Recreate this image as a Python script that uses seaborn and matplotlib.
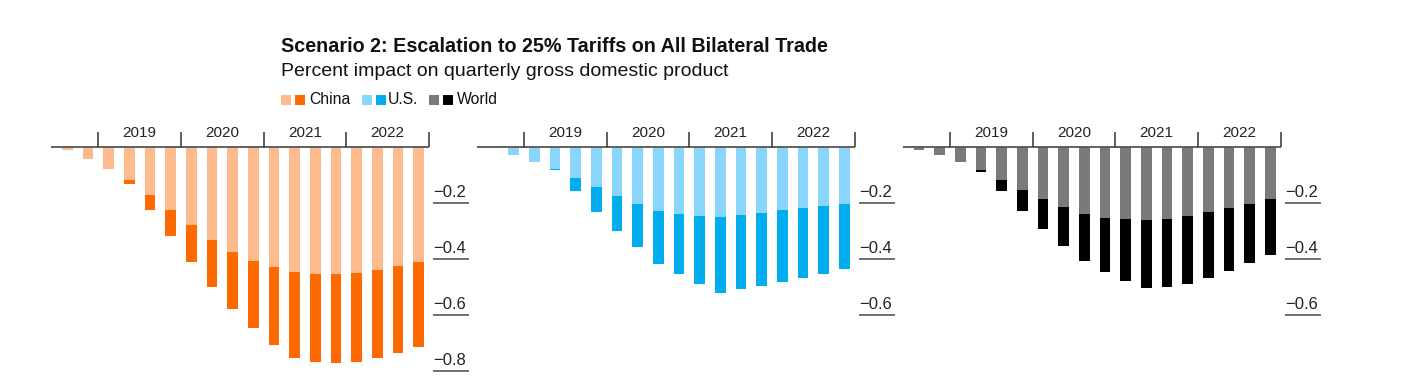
import pandas as pd
import matplotlib.pyplot as plt
import seaborn as sns
from matplotlib.patches import Rectangle

# quarterly GDP impact, 2018Q3 .. 2022Q4
quarters = ["2018Q3", "2018Q4",
            "2019Q1", "2019Q2", "2019Q3", "2019Q4",
            "2020Q1", "2020Q2", "2020Q3", "2020Q4",
            "2021Q1", "2021Q2", "2021Q3", "2021Q4",
            "2022Q1", "2022Q2", "2022Q3", "2022Q4"]
years = ["2019", "2020", "2021", "2022"]

china_light = [-0.010, -0.043, -0.079, -0.119, -0.173, -0.225, -0.281, -0.332, -0.377,
               -0.407, -0.430, -0.449, -0.455, -0.454, -0.450, -0.440, -0.426, -0.413]
china_total = [-0.010, -0.043, -0.079, -0.133, -0.225, -0.319, -0.413, -0.501, -0.579,
               -0.649, -0.707, -0.754, -0.770, -0.774, -0.768, -0.756, -0.738, -0.714]
us_light = [0.0, -0.029, -0.055, -0.079, -0.110, -0.145, -0.177, -0.205, -0.231,
            -0.240, -0.247, -0.252, -0.245, -0.237, -0.227, -0.220, -0.213, -0.204]
us_total = [0.0, -0.029, -0.055, -0.082, -0.159, -0.234, -0.300, -0.360, -0.418,
            -0.456, -0.491, -0.521, -0.510, -0.497, -0.483, -0.468, -0.454, -0.438]
world_light = [-0.010, -0.029, -0.054, -0.084, -0.118, -0.153, -0.186, -0.216, -0.240,
               -0.253, -0.260, -0.263, -0.258, -0.247, -0.235, -0.220, -0.203, -0.188]
world_total = [-0.010, -0.029, -0.054, -0.092, -0.159, -0.228, -0.295, -0.355, -0.409,
               -0.449, -0.481, -0.503, -0.501, -0.489, -0.470, -0.445, -0.417, -0.386]

china_ticks = [-0.2, -0.4, -0.6, -0.8]
other_ticks = [-0.2, -0.4, -0.6]

sns.set_theme(style="white")
plt.rcParams["font.family"] = ["Liberation Sans", "DejaVu Sans"]

W, H = 1422, 383
fig = plt.figure(figsize=(W / 100, H / 100), dpi=100)

step = 20.67  # px per bar slot
x0, x1 = -0.8, 19.6
axw = (x1 - x0) * step

panels = [
    ("China", china_light, china_total, "#FDBA8C", "#FF6A00", 50.8, china_ticks),
    ("U.S.", us_light, us_total, "#8AD5FB", "#00AEEF", 476.5, other_ticks),
    ("World", world_light, world_total, "#7A7A7A", "#000000", 902.5, other_ticks),
]

for name, light, total, c_light, c_dark, left, ticks in panels:
    ax = fig.add_axes([left / W, 0, axw / W, 1])
    df = pd.DataFrame({"quarter": quarters, "light": light, "total": total})
    sns.barplot(data=df, x="quarter", y="total", color=c_dark, saturation=1,
                width=0.52, linewidth=0, errorbar=None, ax=ax)
    sns.barplot(data=df, x="quarter", y="light", color=c_light, saturation=1,
                width=0.52, linewidth=0, errorbar=None, ax=ax)
    ax.set_axis_off()
    ax.set_xlim(x0, x1)
    ax.set_ylim(-0.844, 0.524)

    # baseline + year separators on top
    ax.hlines(0, -0.8, 17.5, color="#555555", lw=1.3, zorder=5)
    ax.vlines([1.5, 5.5, 9.5, 13.5, 17.5], 0, 0.054, color="#333333", lw=1.1, zorder=5)
    for i, yr in enumerate(years):
        ax.text(3.5 + 4 * i, 0.049, yr, ha="center", va="center",
                fontsize=11, color="#222222")

    # right-hand value labels sitting on short rules
    for v in ticks:
        ax.text(17.7, v + 0.02, f"\u2212{abs(v):.1f}", ha="left", va="baseline",
                fontsize=12, color="#222222")
        ax.hlines(v, 17.7, 19.45, color="#555555", lw=1.2)

# header
fig.text(281 / W, 1 - 46 / H, "Scenario 2: Escalation to 25% Tariffs on All Bilateral Trade",
         fontsize=14.2, fontweight="bold", color="#111111", va="center", ha="left")
fig.text(281 / W, 1 - 71 / H, "Percent impact on quarterly gross domestic product",
         fontsize=14, color="#111111", va="center", ha="left")

# legend: paired swatches
legend_items = [
    (281, 295, "#FDBA8C", "#FF6A00", 309, "China"),
    (362, 376, "#8AD5FB", "#00AEEF", 388, "U.S."),
    (429, 443, "#7A7A7A", "#000000", 457, "World"),
]
for lx, dx, cl, cd, tx, lab in legend_items:
    for sx, col in ((lx, cl), (dx, cd)):
        fig.patches.append(Rectangle((sx / W, 1 - 105 / H), 10 / W, 10 / H,
                                     transform=fig.transFigure, color=col, lw=0))
    fig.text(tx / W, 1 - 100 / H, lab, fontsize=11.3, color="#111111",
             va="center", ha="left")

fig.savefig("out.png", dpi=100, facecolor="white")
